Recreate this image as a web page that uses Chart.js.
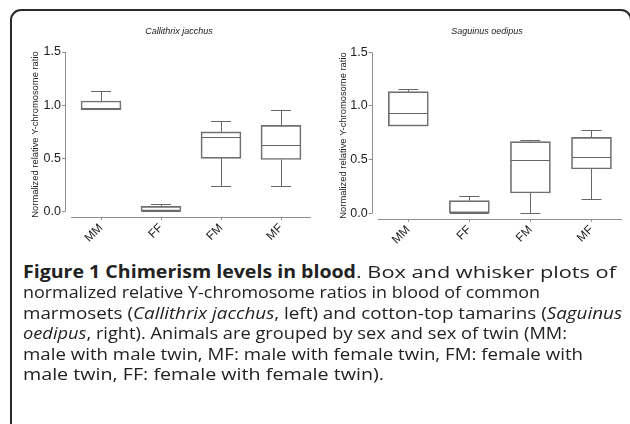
<!DOCTYPE html>
<html>
<head>
<meta charset="utf-8">
<script src="https://cdn.jsdelivr.net/npm/chart.js@4.4.1/dist/chart.umd.min.js"></script>
<style>
  html, body { margin: 0; padding: 0; width: 630px; height: 424px; overflow: hidden; background: #fff; }
  #frame { position: absolute; left: 10px; top: 9px; width: 622px; height: 500px; box-sizing: border-box;
           border: 2px solid #2a2a2a; border-radius: 11px; }
  .wrap { position: absolute; top: 0; width: 320px; height: 250px; }
  #w1 { left: 0px; }
  #w2 { left: 310px; }
  .ptitle { position: absolute; top: 26px; font: italic 9px "Liberation Sans", Arial, sans-serif; color: #222; white-space: nowrap; transform: translateX(-50%); }
  #t1 { left: 179px; }
  #t2 { left: 487px; }
  #caption { position: absolute; left: 23px; top: 262px; font-family: "Open Sans", sans-serif; font-size: 17px;
             line-height: 20.4px; color: #222; white-space: nowrap; }
  #caption .ln { display: block; height: 20.4px; }
  #caption .seg { display: inline-block; transform-origin: 0 50%; white-space: pre; }
  #caption b { font-weight: 700; }
</style>
</head>
<body>
<div id="frame"></div>
<div class="wrap" id="w1"><canvas id="c1" width="320" height="250"></canvas></div>
<div class="wrap" id="w2"><canvas id="c2" width="320" height="250"></canvas></div>
<div class="ptitle" id="t1">Callithrix jacchus</div>
<div class="ptitle" id="t2">Saguinus oedipus</div>
<div id="caption">
<span class="ln"><span class="seg" data-x="0" data-w="333"><b>Figure 1 Chimerism levels in blood</b></span><span class="seg" data-x="333" data-w="260">. Box and whisker plots of</span></span>
<span class="ln"><span class="seg" data-x="0" data-w="517">normalized relative Y-chromosome ratios in blood of common</span></span>
<span class="ln"><span class="seg" data-x="0" data-w="599">marmosets (<i>Callithrix jacchus</i>, left) and cotton-top tamarins (<i>Saguinus</i></span></span>
<span class="ln"><span class="seg" data-x="0" data-w="544"><i>oedipus</i>, right). Animals are grouped by sex and sex of twin (MM:</span></span>
<span class="ln"><span class="seg" data-x="0" data-w="560">male with male twin, MF: male with female twin, FM: female with</span></span>
<span class="ln"><span class="seg" data-x="0" data-w="361">male twin, FF: female with female twin).</span></span>
</div>
<script>
// ---- data ----
const categories = ['MM', 'FF', 'FM', 'MF'];
const yTickValues = [0, 0.5, 1.0, 1.5];
const yAxisTitle = 'Normalized relative Y-chromosome ratio';

// Callithrix jacchus
const cjMin    = [0.955, 0.00, 0.24, 0.24];
const cjQ1     = [0.955, 0.00, 0.50, 0.49];
const cjMedian = [0.970, 0.01, 0.70, 0.63];
const cjQ3     = [1.040, 0.05, 0.75, 0.81];
const cjMax    = [1.135, 0.07, 0.855, 0.955];

// Saguinus oedipus
const soMin    = [0.810, 0.00, 0.00, 0.136];
const soQ1     = [0.813, 0.00, 0.189, 0.413];
const soMedian = [0.935, 0.00, 0.500, 0.528];
const soQ3     = [1.133, 0.118, 0.668, 0.708];
const soMax    = [1.160, 0.158, 0.686, 0.776];

const BOX_COLOR = '#707070';
const LINE_COLOR = '#666666';
const AXIS_COLOR = '#8f8f8f';
const FONT = '"Liberation Sans", Arial, sans-serif';

// fit caption segments to the reference line lengths
document.querySelectorAll('#caption .seg').forEach(el => {
  const w = el.getBoundingClientRect().width;
  const target = parseFloat(el.dataset.w);
  const x = parseFloat(el.dataset.x);
  el.style.position = 'absolute';
  el.style.left = x + 'px';
  if (w > 0) el.style.transform = 'scaleX(' + (target / w) + ')';
});
document.querySelectorAll('#caption .ln').forEach(el => { el.style.position = 'relative'; });

const boxPlugin = {
  id: 'boxExtras',
  afterDatasetsDraw(chart, args, opts) {
    const ctx = chart.ctx, xs = chart.scales.x, ys = chart.scales.y;
    ctx.save();
    ctx.strokeStyle = LINE_COLOR;
    ctx.lineWidth = 1;
    const cap = opts.capWidth, half = opts.boxWidth / 2;
    const px = v => Math.round(v) + 0.5;
    opts.min.forEach((mn, i) => {
      const cx = xs.getPixelForValue(i);
      const yMin = ys.getPixelForValue(mn), yQ1 = ys.getPixelForValue(opts.q1[i]);
      const yQ3 = ys.getPixelForValue(opts.q3[i]), yMax = ys.getPixelForValue(opts.max[i]);
      const yMed = ys.getPixelForValue(opts.median[i]);
      ctx.beginPath();
      ctx.moveTo(px(cx), yQ3); ctx.lineTo(px(cx), px(yMax));
      ctx.moveTo(cx - cap / 2, px(yMax)); ctx.lineTo(cx + cap / 2, px(yMax));
      if (Math.abs(yMin - yQ1) > 0.5) {
        ctx.moveTo(px(cx), yQ1); ctx.lineTo(px(cx), px(yMin));
        ctx.moveTo(cx - cap / 2, px(yMin)); ctx.lineTo(cx + cap / 2, px(yMin));
      }
      ctx.moveTo(cx - half + 0.5, px(yMed)); ctx.lineTo(cx + half - 0.5, px(yMed));
      ctx.stroke();
    });
    ctx.strokeStyle = AXIS_COLOR;
    ctx.beginPath();
    const ax = px(chart.chartArea.left);
    ctx.moveTo(ax, ys.getPixelForValue(yTickValues[yTickValues.length - 1]));
    ctx.lineTo(ax, ys.getPixelForValue(yTickValues[0]));
    const by = px(chart.chartArea.bottom);
    ctx.moveTo(xs.getPixelForValue(-0.5), by);
    ctx.lineTo(xs.getPixelForValue(categories.length - 0.5), by);
    ctx.stroke();
    ctx.restore();
  }
};

function makeChart(id, q1, q3, mn, med, mx, lay) {
  const boxData = categories.map((c, i) => ({ x: i, y: [q1[i], q3[i]] }));
  return new Chart(document.getElementById(id), {
    type: 'bar',
    data: {
      datasets: [{
        data: boxData,
        backgroundColor: 'rgba(255,255,255,0)',
        borderColor: BOX_COLOR,
        borderWidth: 1,
        borderSkipped: false,
        barThickness: 40
      }]
    },
    options: {
      responsive: false,
      animation: false,
      events: [],
      layout: { padding: { left: lay.padL, right: lay.padR, top: lay.padT, bottom: 0 } },
      plugins: {
        legend: { display: false },
        tooltip: { enabled: false },
        title: { display: false },
        boxExtras: { min: mn, q1: q1, median: med, q3: q3, max: mx, capWidth: 20, boxWidth: 40 }
      },
      scales: {
        x: {
          type: 'linear',
          offset: false,
          min: -0.6,
          max: categories.length - 0.5,
          afterBuildTicks: s => { s.ticks = categories.map((c, i) => ({ value: i })); },
          afterFit: s => { s.height = lay.xH; },
          grid: { drawOnChartArea: false, drawTicks: true, tickLength: 3, color: AXIS_COLOR, offset: false },
          border: { display: false },
          ticks: {
            minRotation: 45, maxRotation: 45, padding: 1,
            color: '#222', font: { family: FONT, size: 12 },
            callback: v => categories[v]
          }
        },
        y: {
          min: -0.05,
          max: 1.5,
          afterBuildTicks: s => { s.ticks = yTickValues.map(v => ({ value: v })); },
          afterFit: s => { s.width = lay.yW; },
          grid: { drawOnChartArea: false, drawTicks: true, tickLength: 3, color: AXIS_COLOR },
          border: { display: false },
          ticks: {
            padding: 1, color: '#222', font: { family: FONT, size: 12.5 },
            callback: v => v.toFixed(1)
          },
          title: {
            display: true, text: yAxisTitle, color: '#222',
            font: { family: FONT, size: 9.4 }, padding: 0
          }
        }
      }
    },
    plugins: [boxPlugin]
  });
}

makeChart('c1', cjQ1, cjQ3, cjMin, cjMedian, cjMax, { padL: 29.6, yW: 35.4, padR: 9, padT: 52, xH: 33 });
makeChart('c2', soQ1, soQ3, soMin, soMedian, soMax, { padL: 27.9, yW: 33.8, padR: 8, padT: 52.3, xH: 31.3 });
</script>
</body>
</html>
